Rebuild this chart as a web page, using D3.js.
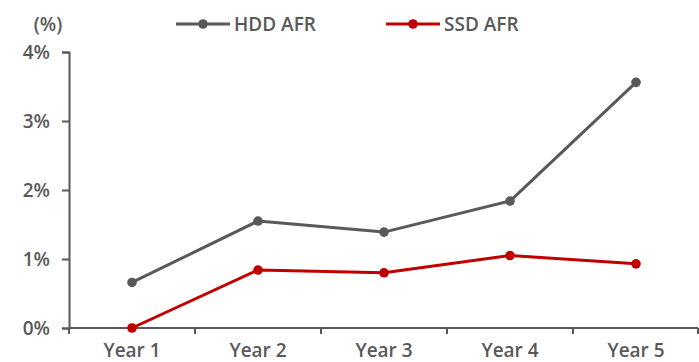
<!DOCTYPE html>
<html><head><meta charset="utf-8">
<script src="https://cdn.jsdelivr.net/npm/d3@7"></script>
<style>body{margin:0;background:#fff}svg{display:block}text{font-family:"Open Sans",sans-serif;font-weight:600;fill:#595959}</style>
</head><body><svg id="c" width="699" height="362"></svg>
<script>
const categories = ["Year 1","Year 2","Year 3","Year 4","Year 5"];
const hddAFR = [0.66, 1.55, 1.39, 1.84, 3.56];
const ssdAFR = [0.00, 0.84, 0.80, 1.05, 0.93];
const yTicks = [0,1,2,3,4];
const seriesNames = ["HDD AFR","SSD AFR"];
const colors = ["#595959","#C00000"];

const svg = d3.select("#c");
const x = d3.scaleBand().domain(categories).range([69,699]);
const y = d3.scaleLinear().domain([0,4]).range([328,52]);

const yAxis = svg.append("g").attr("transform","translate(69,0)")
  .call(d3.axisLeft(y).tickValues(yTicks).tickFormat(d=>d+"%").tickSizeInner(7).tickSizeOuter(7).tickPadding(12));
const xAxis = svg.append("g").attr("transform","translate(0,328)")
  .call(d3.axisBottom(x).tickSize(0).tickPadding(16));
svg.append("g").selectAll("line").data(categories.concat([null])).join("line")
  .attr("x1",(d,i)=> i<categories.length ? x(d) : x.range()[1]-1)
  .attr("x2",(d,i)=> i<categories.length ? x(d) : x.range()[1]-1)
  .attr("y1",328).attr("y2",334).attr("stroke","#595959").attr("stroke-width",2);
[yAxis,xAxis].forEach(g=>{
  g.selectAll("path,line").attr("stroke","#595959").attr("stroke-width",2);
  g.selectAll("text").attr("font-size",19).attr("fill","#595959").style("font-family","'Open Sans',sans-serif").style("font-weight",600);
});
xAxis.select("path.domain").attr("d","M69,0H698");

svg.append("text").attr("x",48).attr("y",31).attr("text-anchor","middle").attr("font-size",19).text("(%)");

const series = [hddAFR, ssdAFR];
const line = d3.line().x((d,i)=>x(categories[i])+x.bandwidth()/2).y(d=>y(d));
series.forEach((s,k)=>{
  svg.append("path").datum(s).attr("d",line).attr("fill","none").attr("stroke",colors[k]).attr("stroke-width",3).attr("stroke-linejoin","round");
  svg.append("g").selectAll("circle").data(s).join("circle")
    .attr("cx",(d,i)=>x(categories[i])+x.bandwidth()/2).attr("cy",d=>y(d)).attr("r",4.8).attr("fill",colors[k]);
});

const legX = [176,386];
seriesNames.forEach((n,k)=>{
  const g = svg.append("g").attr("transform",`translate(${legX[k]},24)`);
  g.append("line").attr("x1",0).attr("x2",54).attr("y1",0).attr("y2",0).attr("stroke",colors[k]).attr("stroke-width",3.2);
  g.append("circle").attr("cx",27).attr("cy",0).attr("r",4.8).attr("fill",colors[k]);
  g.append("text").attr("x",58).attr("y",7).attr("font-size",19).text(n);
});
</script></body></html>
